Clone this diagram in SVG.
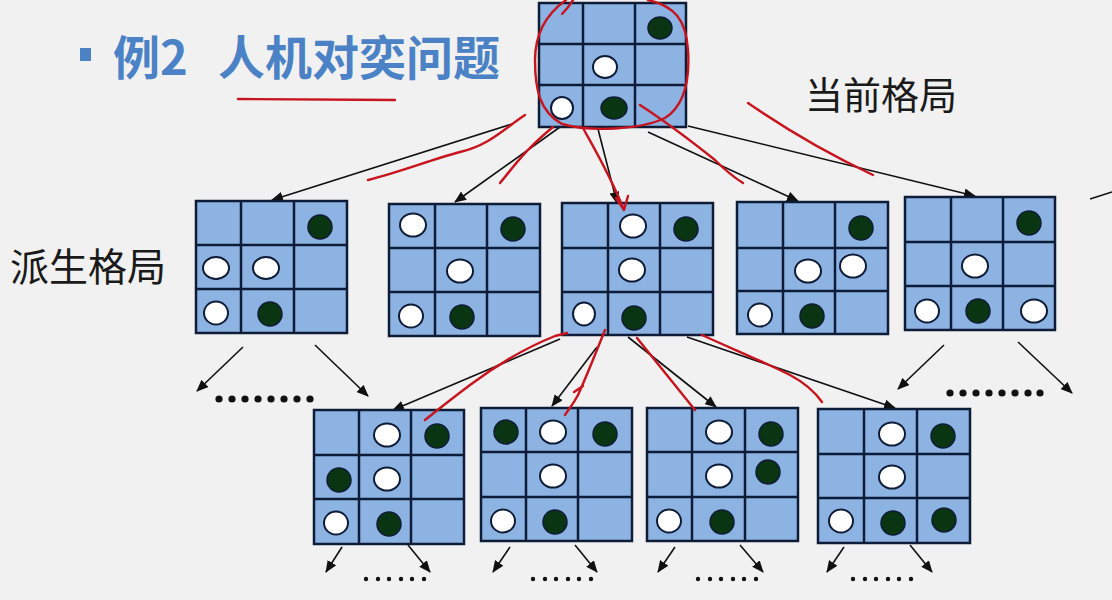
<svg xmlns="http://www.w3.org/2000/svg" width="1112" height="600" viewBox="0 0 1112 600">
<defs>
<marker id="ah" viewBox="0 0 12 10" refX="11" refY="5" markerWidth="12" markerHeight="10" markerUnits="userSpaceOnUse" orient="auto">
<path d="M0,0 L12,5 L0,10 Z" fill="#111"/>
</marker>
<style>
.bd{fill:#8db3e2;stroke:#0f1c38;stroke-width:2.5}
.gl{stroke:#0f1c38;stroke-width:2.5}
.w{fill:#fff;stroke:#0f1c38;stroke-width:2}
.b{fill:#093512;stroke:#0f1c38;stroke-width:1.5}
.cn{stroke:#111;stroke-width:1.6;fill:none;marker-end:url(#ah)}
.rd{stroke:#c8141e;stroke-width:2.4;fill:none;stroke-linecap:round;stroke-linejoin:round}
.dt{fill:#111}
.t{font-family:"Noto Sans CJK SC","Noto Sans",sans-serif}
</style>
</defs>
<rect width="1112" height="600" fill="#f1f1f1"/>

<g id="title">
<rect x="80" y="48" width="11" height="13" fill="#4b82c6"/>
<text class="t" x="113" y="75" font-size="47" font-weight="bold" fill="#4b82c6">例2</text>
<text class="t" x="218" y="75" font-size="47" font-weight="bold" fill="#4b82c6">人机对奕问题</text>
</g>
<g id="label-current"><text class="t" x="805" y="109" font-size="38" fill="#1a1a1a">当前格局</text></g>
<g id="label-derived"><text class="t" x="10" y="281" font-size="39" fill="#1a1a1a">派生格局</text></g>

<g id="connectors">
<line class="cn" x1="512" y1="124" x2="272" y2="200"/>
<line class="cn" x1="560" y1="127" x2="455" y2="202"/>
<line class="cn" x1="598" y1="129" x2="617" y2="203"/>
<line class="cn" x1="648" y1="132" x2="798" y2="201"/>
<line class="cn" x1="688" y1="126" x2="975" y2="196"/>
<line x1="1090" y1="199" x2="1112" y2="192" stroke="#111" stroke-width="1.6"/>
<line class="cn" x1="243" y1="347" x2="197" y2="391"/>
<line class="cn" x1="315" y1="345" x2="368" y2="396"/>
<line class="cn" x1="944" y1="345" x2="898" y2="389"/>
<line class="cn" x1="1018" y1="342" x2="1072" y2="393"/>
<line class="cn" x1="560" y1="339" x2="393" y2="410"/>
<line class="cn" x1="597" y1="347" x2="552" y2="406"/>
<line class="cn" x1="628" y1="337" x2="716" y2="407"/>
<line class="cn" x1="687" y1="337" x2="895" y2="408"/>
<line class="cn" x1="342" y1="547" x2="326" y2="572"/>
<line class="cn" x1="408" y1="545" x2="430" y2="572"/>
<line class="cn" x1="510" y1="547" x2="493" y2="572"/>
<line class="cn" x1="575" y1="545" x2="597" y2="572"/>
<line class="cn" x1="675" y1="547" x2="658" y2="572"/>
<line class="cn" x1="740" y1="545" x2="763" y2="572"/>
<line class="cn" x1="844" y1="547" x2="827" y2="572"/>
<line class="cn" x1="910" y1="545" x2="932" y2="572"/>
</g>

<g id="ellipsis">
<g class="dt">
<circle cx="219" cy="399" r="3.6"/><circle cx="232" cy="399" r="3.6"/><circle cx="245" cy="399" r="3.6"/><circle cx="258" cy="399" r="3.6"/><circle cx="271" cy="399" r="3.6"/><circle cx="284" cy="399" r="3.6"/><circle cx="297" cy="399" r="3.6"/><circle cx="310" cy="399" r="3.6"/>
<circle cx="950" cy="393" r="3.6"/><circle cx="963" cy="393" r="3.6"/><circle cx="976" cy="393" r="3.6"/><circle cx="989" cy="393" r="3.6"/><circle cx="1002" cy="393" r="3.6"/><circle cx="1015" cy="393" r="3.6"/><circle cx="1028" cy="393" r="3.6"/><circle cx="1040" cy="393" r="3.6"/>
<circle cx="366" cy="579" r="2.2"/><circle cx="378" cy="579" r="2.2"/><circle cx="389" cy="579" r="2.2"/><circle cx="401" cy="579" r="2.2"/><circle cx="412" cy="579" r="2.2"/><circle cx="424" cy="579" r="2.2"/>
<circle cx="533" cy="579" r="2.2"/><circle cx="545" cy="579" r="2.2"/><circle cx="556" cy="579" r="2.2"/><circle cx="568" cy="579" r="2.2"/><circle cx="579" cy="579" r="2.2"/><circle cx="591" cy="579" r="2.2"/>
<circle cx="698" cy="579" r="2.2"/><circle cx="710" cy="579" r="2.2"/><circle cx="721" cy="579" r="2.2"/><circle cx="733" cy="579" r="2.2"/><circle cx="744" cy="579" r="2.2"/><circle cx="756" cy="579" r="2.2"/>
<circle cx="853" cy="579" r="2.2"/><circle cx="865" cy="579" r="2.2"/><circle cx="876" cy="579" r="2.2"/><circle cx="888" cy="579" r="2.2"/><circle cx="899" cy="579" r="2.2"/><circle cx="911" cy="579" r="2.2"/>
</g>
</g>

<g id="board-current">
<rect class="bd" x="539" y="3" width="147" height="124"/>
<line class="gl" x1="583" y1="3" x2="583" y2="127"/><line class="gl" x1="635" y1="3" x2="635" y2="127"/>
<line class="gl" x1="539" y1="44" x2="686" y2="44"/><line class="gl" x1="539" y1="85" x2="686" y2="85"/>
<ellipse class="b" cx="660" cy="28" rx="12" ry="11"/>
<ellipse class="w" cx="605" cy="67" rx="12" ry="11"/>
<ellipse class="w" cx="562" cy="108" rx="11" ry="11"/>
<ellipse class="b" cx="614" cy="108" rx="13" ry="11"/>
</g>

<g id="board-d1">
<rect class="bd" x="196" y="201" width="151" height="132"/>
<line class="gl" x1="241" y1="201" x2="241" y2="333"/><line class="gl" x1="294" y1="201" x2="294" y2="333"/>
<line class="gl" x1="196" y1="245" x2="347" y2="245"/><line class="gl" x1="196" y1="289" x2="347" y2="289"/>
<ellipse class="b" cx="320" cy="227" rx="12" ry="12"/>
<ellipse class="w" cx="216" cy="268" rx="13" ry="11"/>
<ellipse class="w" cx="266" cy="268" rx="13" ry="11"/>
<ellipse class="w" cx="216" cy="313" rx="12" ry="11.5"/>
<ellipse class="b" cx="270" cy="314" rx="12" ry="12"/>
</g>

<g id="board-d2">
<rect class="bd" x="389" y="204" width="151" height="132"/>
<line class="gl" x1="435" y1="204" x2="435" y2="336"/><line class="gl" x1="487" y1="204" x2="487" y2="336"/>
<line class="gl" x1="389" y1="248" x2="540" y2="248"/><line class="gl" x1="389" y1="292" x2="540" y2="292"/>
<ellipse class="w" cx="413" cy="225" rx="13" ry="11.5"/>
<ellipse class="b" cx="513" cy="229" rx="12" ry="12"/>
<ellipse class="w" cx="460" cy="271" rx="13" ry="11.5"/>
<ellipse class="w" cx="411" cy="316" rx="12" ry="11.5"/>
<ellipse class="b" cx="462" cy="317" rx="12" ry="12"/>
</g>

<g id="board-d3">
<rect class="bd" x="562" y="203" width="151" height="132"/>
<line class="gl" x1="608" y1="203" x2="608" y2="335"/><line class="gl" x1="660" y1="203" x2="660" y2="335"/>
<line class="gl" x1="562" y1="248" x2="713" y2="248"/><line class="gl" x1="562" y1="292" x2="713" y2="292"/>
<ellipse class="w" cx="633" cy="226" rx="13" ry="11.5"/>
<ellipse class="b" cx="686" cy="229" rx="12" ry="12"/>
<ellipse class="w" cx="632" cy="270" rx="13" ry="11.5"/>
<ellipse class="w" cx="584" cy="314" rx="11" ry="11.5"/>
<ellipse class="b" cx="634" cy="318" rx="12" ry="12"/>
</g>

<g id="board-d4">
<rect class="bd" x="737" y="202" width="151" height="132"/>
<line class="gl" x1="783" y1="202" x2="783" y2="334"/><line class="gl" x1="835" y1="202" x2="835" y2="334"/>
<line class="gl" x1="737" y1="248" x2="888" y2="248"/><line class="gl" x1="737" y1="291" x2="888" y2="291"/>
<ellipse class="b" cx="861" cy="228" rx="12" ry="12"/>
<ellipse class="w" cx="808" cy="271" rx="13" ry="11.5"/>
<ellipse class="w" cx="853" cy="266" rx="13" ry="11.5"/>
<ellipse class="w" cx="760" cy="315" rx="12" ry="11.5"/>
<ellipse class="b" cx="812" cy="316" rx="12" ry="12"/>
</g>

<g id="board-d5">
<rect class="bd" x="905" y="197" width="150" height="133"/>
<line class="gl" x1="951" y1="197" x2="951" y2="330"/><line class="gl" x1="1003" y1="197" x2="1003" y2="330"/>
<line class="gl" x1="905" y1="242" x2="1055" y2="242"/><line class="gl" x1="905" y1="286" x2="1055" y2="286"/>
<ellipse class="b" cx="1029" cy="223" rx="12" ry="12"/>
<ellipse class="w" cx="975" cy="266" rx="13" ry="11.5"/>
<ellipse class="w" cx="927" cy="311" rx="12" ry="11.5"/>
<ellipse class="b" cx="978" cy="311" rx="12" ry="12"/>
<ellipse class="w" cx="1034" cy="311" rx="13" ry="11.5"/>
</g>

<g id="board-c1">
<rect class="bd" x="314" y="410" width="150" height="134"/>
<line class="gl" x1="359" y1="410" x2="359" y2="544"/><line class="gl" x1="411" y1="410" x2="411" y2="544"/>
<line class="gl" x1="314" y1="455" x2="464" y2="455"/><line class="gl" x1="314" y1="499" x2="464" y2="499"/>
<ellipse class="w" cx="387" cy="435" rx="13" ry="11.5"/>
<ellipse class="b" cx="437" cy="436" rx="12" ry="12"/>
<ellipse class="b" cx="339" cy="480" rx="12" ry="12"/>
<ellipse class="w" cx="387" cy="479" rx="13" ry="11.5"/>
<ellipse class="w" cx="336" cy="523" rx="12" ry="11.5"/>
<ellipse class="b" cx="389" cy="524" rx="12" ry="12"/>
</g>

<g id="board-c2">
<rect class="bd" x="481" y="408" width="151" height="133"/>
<line class="gl" x1="526" y1="408" x2="526" y2="541"/><line class="gl" x1="578" y1="408" x2="578" y2="541"/>
<line class="gl" x1="481" y1="452" x2="632" y2="452"/><line class="gl" x1="481" y1="497" x2="632" y2="497"/>
<ellipse class="b" cx="506" cy="432" rx="12" ry="12"/>
<ellipse class="w" cx="553" cy="432" rx="13" ry="11.5"/>
<ellipse class="b" cx="605" cy="434" rx="12" ry="12"/>
<ellipse class="w" cx="553" cy="476" rx="13" ry="11.5"/>
<ellipse class="w" cx="503" cy="521" rx="12" ry="11.5"/>
<ellipse class="b" cx="555" cy="522" rx="12" ry="12"/>
</g>

<g id="board-c3">
<rect class="bd" x="647" y="408" width="151" height="133"/>
<line class="gl" x1="692" y1="408" x2="692" y2="541"/><line class="gl" x1="745" y1="408" x2="745" y2="541"/>
<line class="gl" x1="647" y1="452" x2="798" y2="452"/><line class="gl" x1="647" y1="497" x2="798" y2="497"/>
<ellipse class="w" cx="719" cy="432" rx="13" ry="11.5"/>
<ellipse class="b" cx="771" cy="434" rx="12" ry="12"/>
<ellipse class="w" cx="719" cy="476" rx="13" ry="11.5"/>
<ellipse class="b" cx="768" cy="472" rx="12" ry="12"/>
<ellipse class="w" cx="669" cy="521" rx="12" ry="11.5"/>
<ellipse class="b" cx="722" cy="522" rx="12" ry="12"/>
</g>

<g id="board-c4">
<rect class="bd" x="818" y="409" width="152" height="134"/>
<line class="gl" x1="864" y1="409" x2="864" y2="543"/><line class="gl" x1="917" y1="409" x2="917" y2="543"/>
<line class="gl" x1="818" y1="454" x2="970" y2="454"/><line class="gl" x1="818" y1="498" x2="970" y2="498"/>
<ellipse class="w" cx="892" cy="434" rx="13" ry="11.5"/>
<ellipse class="b" cx="943" cy="436" rx="12" ry="12"/>
<ellipse class="w" cx="892" cy="477" rx="13" ry="11.5"/>
<ellipse class="w" cx="841" cy="521" rx="12" ry="11.5"/>
<ellipse class="b" cx="893" cy="523" rx="12" ry="12"/>
<ellipse class="b" cx="944" cy="520" rx="12" ry="12"/>
</g>

<g id="annotations">
<path class="rd" d="M238,99 L395,100"/>
<path class="rd" d="M573,0 Q568,8 562,14"/>
<path class="rd" d="M566,0 C545,15 535,35 535,60 C535,90 540,112 562,124 C590,132 640,130 665,118 C685,105 690,80 688,50 C686,20 675,6 648,0"/>
<path class="rd" d="M640,105 C660,118 690,140 715,160 C725,170 735,178 743,183"/>
<path class="rd" d="M368,180 C400,172 430,160 460,152 C490,145 505,128 525,115"/>
<path class="rd" d="M500,183 C515,165 525,150 553,127"/>
<path class="rd" d="M583,128 C595,150 610,175 624,210 M616,198 L624,210 L628,196"/>
<path class="rd" d="M748,103 C780,125 820,150 873,175"/>
<path class="rd" d="M567,333 L555,336 C520,350 490,370 470,385 C450,400 435,412 425,420"/>
<path class="rd" d="M605,330 C595,355 585,380 578,395 C573,405 568,410 565,415 M574,392 L583,386"/>
<path class="rd" d="M637,338 C655,360 675,385 695,410"/>
<path class="rd" d="M702,335 C730,348 760,360 790,375 C805,383 815,392 822,402"/>
</g>
</svg>
